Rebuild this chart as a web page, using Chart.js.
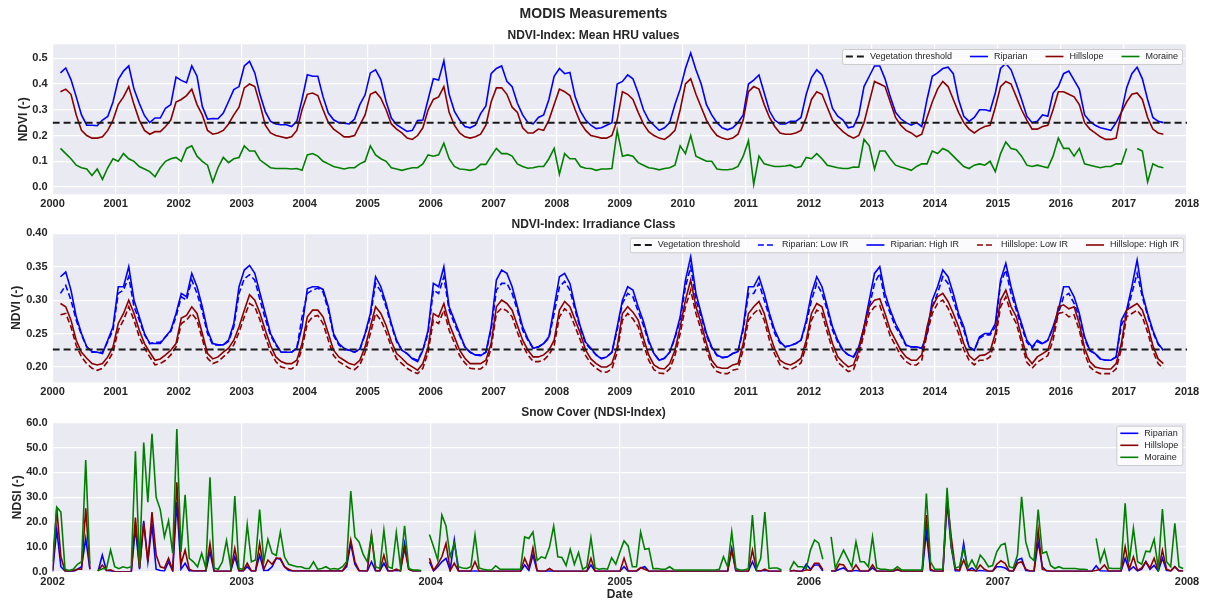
<!DOCTYPE html>
<html>
<head>
<meta charset="utf-8">
<script src="https://cdn.jsdelivr.net/npm/chart.js@4.4.0/dist/chart.umd.min.js"></script>
<style>
  body { margin: 0; background: #fff; }
  #wrap { position: relative; width: 1211px; height: 602px; }
  canvas { position: absolute; left: 0; }
</style>
</head>
<body>
<div id="wrap">
  <canvas id="ndvi" width="1211" height="212" style="top:0"></canvas>
  <canvas id="irr" width="1211" height="188" style="top:212px"></canvas>
  <canvas id="snow" width="1211" height="202" style="top:400px"></canvas>
</div>
<script>
// NDVI: monthly means, Feb 2000 .. Aug 2017 (one row per year)
const ndviRiparian = [
  0.443, 0.462, 0.417, 0.35, 0.28, 0.24, 0.24, 0.238, 0.26, 0.274, 0.33,
  0.417, 0.45, 0.47, 0.38, 0.325, 0.277, 0.25, 0.268, 0.268, 0.306, 0.32, 0.427,
  0.414, 0.405, 0.47, 0.43, 0.313, 0.264, 0.266, 0.265, 0.287, 0.332, 0.378, 0.39,
  0.47, 0.488, 0.443, 0.358, 0.293, 0.255, 0.245, 0.242, 0.242, 0.235, 0.255, 0.34,
  0.436, 0.43, 0.43, 0.35, 0.287, 0.261, 0.25, 0.248, 0.245, 0.264, 0.32, 0.358,
  0.443, 0.455, 0.417, 0.332, 0.268, 0.242, 0.229, 0.216, 0.22, 0.258, 0.26, 0.34,
  0.42, 0.415, 0.49, 0.36, 0.295, 0.26, 0.235, 0.23, 0.24, 0.285, 0.315, 0.44,
  0.46, 0.47, 0.41, 0.39, 0.325, 0.28, 0.25, 0.245, 0.27, 0.28, 0.34, 0.43,
  0.46, 0.44, 0.445, 0.35, 0.295, 0.26, 0.24, 0.227, 0.23, 0.24, 0.25, 0.40,
  0.41, 0.435, 0.42, 0.365, 0.30, 0.26, 0.24, 0.22, 0.23, 0.25, 0.32, 0.38,
  0.46, 0.52, 0.455, 0.40, 0.32, 0.28, 0.25, 0.23, 0.222, 0.23, 0.25, 0.28,
  0.40, 0.415, 0.435, 0.365, 0.295, 0.26, 0.245, 0.245, 0.255, 0.255, 0.27, 0.36,
  0.425, 0.455, 0.435, 0.38, 0.305, 0.275, 0.26, 0.23, 0.235, 0.28, 0.39, 0.43,
  0.47, 0.47, 0.42, 0.35, 0.29, 0.265, 0.25, 0.24, 0.25, 0.235, 0.34, 0.43,
  0.443, 0.46, 0.465, 0.44, 0.34, 0.275, 0.255, 0.27, 0.30, 0.30, 0.295, 0.365,
  0.46, 0.48, 0.455, 0.40, 0.34, 0.275, 0.25, 0.255, 0.28, 0.275, 0.365, 0.39,
  0.44, 0.45, 0.415, 0.38, 0.28, 0.255, 0.24, 0.23, 0.225, 0.22, 0.25, 0.29,
  0.385, 0.44, 0.465, 0.42, 0.34, 0.27, 0.255, 0.25
];
const ndviHillslope = [
  0.37, 0.38, 0.36, 0.28, 0.22, 0.20, 0.19, 0.19, 0.195, 0.22, 0.26,
  0.32, 0.35, 0.39, 0.32, 0.26, 0.22, 0.205, 0.215, 0.215, 0.235, 0.26, 0.33,
  0.34, 0.355, 0.38, 0.32, 0.28, 0.22, 0.205, 0.21, 0.22, 0.245, 0.28, 0.31,
  0.385, 0.40, 0.39, 0.32, 0.24, 0.21, 0.20, 0.195, 0.19, 0.195, 0.22, 0.30,
  0.36, 0.365, 0.355, 0.30, 0.25, 0.225, 0.21, 0.195, 0.195, 0.20, 0.24, 0.28,
  0.36, 0.37, 0.345, 0.30, 0.245, 0.225, 0.21, 0.19, 0.185, 0.20, 0.23, 0.30,
  0.34, 0.35, 0.39, 0.29, 0.24, 0.21, 0.195, 0.19, 0.195, 0.205, 0.24, 0.33,
  0.385, 0.385, 0.36, 0.31, 0.29, 0.23, 0.21, 0.21, 0.225, 0.22, 0.26, 0.32,
  0.38, 0.37, 0.355, 0.30, 0.25, 0.22, 0.20, 0.195, 0.19, 0.19, 0.20, 0.26,
  0.37, 0.36, 0.34, 0.29, 0.245, 0.215, 0.20, 0.19, 0.185, 0.20, 0.22, 0.30,
  0.40, 0.42, 0.36, 0.31, 0.26, 0.225, 0.20, 0.19, 0.185, 0.19, 0.205, 0.26,
  0.37, 0.39, 0.38, 0.32, 0.27, 0.235, 0.21, 0.205, 0.205, 0.21, 0.22, 0.27,
  0.34, 0.37, 0.36, 0.31, 0.26, 0.235, 0.215, 0.20, 0.19, 0.20, 0.25, 0.33,
  0.41, 0.40, 0.39, 0.33, 0.27, 0.24, 0.22, 0.21, 0.195, 0.205, 0.27, 0.33,
  0.38, 0.41, 0.39, 0.34, 0.29, 0.25, 0.225, 0.21, 0.225, 0.235, 0.24, 0.31,
  0.39, 0.41, 0.40, 0.35, 0.30, 0.26, 0.225, 0.225, 0.235, 0.24, 0.30, 0.37,
  0.37, 0.36, 0.35, 0.32, 0.25, 0.225, 0.21, 0.195, 0.185, 0.185, 0.19, 0.29,
  0.33, 0.36, 0.365, 0.34, 0.27, 0.225, 0.21, 0.205
];
const ndviMoraine = [
  0.15, 0.13, 0.11, 0.085, 0.075, 0.07, 0.045, 0.07, 0.03, 0.075, 0.11,
  0.10, 0.13, 0.11, 0.10, 0.08, 0.07, 0.06, 0.04, 0.075, 0.10, 0.11, 0.115,
  0.10, 0.15, 0.16, 0.12, 0.10, 0.085, 0.02, 0.075, 0.115, 0.095, 0.11, 0.115,
  0.16, 0.14, 0.14, 0.105, 0.09, 0.075, 0.072, 0.072, 0.072, 0.07, 0.072, 0.065,
  0.125, 0.13, 0.12, 0.10, 0.09, 0.08, 0.075, 0.07, 0.075, 0.075, 0.09, 0.10,
  0.16, 0.125, 0.11, 0.10, 0.075, 0.07, 0.065, 0.07, 0.075, 0.075, 0.09, 0.125,
  0.12, 0.125, 0.17, 0.11, 0.08, 0.07, 0.068, 0.065, 0.07, 0.088, 0.088, 0.12,
  0.15, 0.13, 0.13, 0.12, 0.09, 0.08, 0.073, 0.075, 0.08, 0.08, 0.11, 0.15,
  0.05, 0.13, 0.11, 0.11, 0.08, 0.073, 0.072, 0.065, 0.07, 0.07, 0.072, 0.22,
  0.12, 0.125, 0.12, 0.095, 0.085, 0.075, 0.072, 0.067, 0.072, 0.075, 0.085, 0.16,
  0.13, 0.20, 0.12, 0.11, 0.10, 0.10, 0.07, 0.067, 0.067, 0.07, 0.08, 0.12,
  0.18, 0.01, 0.12, 0.09, 0.085, 0.08, 0.08, 0.082, 0.085, 0.075, 0.08, 0.115,
  0.11, 0.13, 0.11, 0.085, 0.08, 0.075, 0.072, 0.072, 0.078, 0.077, 0.185, 0.16,
  0.07, 0.14, 0.14, 0.11, 0.085, 0.078, 0.072, 0.065, 0.08, 0.09, 0.09, 0.14,
  0.13, 0.15, 0.14, 0.12, 0.10, 0.08, 0.072, 0.085, 0.09, 0.085, 0.10, 0.06,
  0.13, 0.175, 0.15, 0.145, 0.12, 0.085, 0.08, 0.085, 0.08, 0.075, 0.12, 0.19,
  0.15, 0.15, 0.12, 0.15, 0.09, 0.085, 0.08, 0.075, 0.08, 0.08, 0.09, 0.09,
  0.15, null, 0.15, 0.14, 0.02, 0.09, 0.08, 0.075
];
const ndviThreshold = 0.25;

// NDVI by irradiance class, same months
const irrRipLow = [
  0.31, 0.322, 0.30, 0.27, 0.248, 0.23, 0.222, 0.222, 0.222, 0.238, 0.255,
  0.31, 0.315, 0.335, 0.29, 0.27, 0.248, 0.235, 0.237, 0.237, 0.245, 0.253, 0.275,
  0.305, 0.30, 0.33, 0.31, 0.283, 0.25, 0.233, 0.233, 0.233, 0.238, 0.26, 0.31,
  0.332, 0.338, 0.33, 0.30, 0.272, 0.247, 0.233, 0.222, 0.222, 0.222, 0.228, 0.275,
  0.31, 0.315, 0.318, 0.312, 0.285, 0.247, 0.233, 0.226, 0.225, 0.222, 0.226, 0.248,
  0.275, 0.325, 0.313, 0.29, 0.262, 0.238, 0.225, 0.22, 0.213, 0.21, 0.225, 0.25,
  0.315, 0.31, 0.335, 0.285, 0.265, 0.247, 0.23, 0.222, 0.218, 0.218, 0.222, 0.255,
  0.315, 0.325, 0.325, 0.31, 0.285, 0.255, 0.24, 0.228, 0.23, 0.235, 0.243, 0.28,
  0.32, 0.328, 0.315, 0.285, 0.257, 0.235, 0.226, 0.218, 0.213, 0.215, 0.222, 0.255,
  0.295, 0.31, 0.305, 0.283, 0.262, 0.237, 0.22, 0.21, 0.213, 0.222, 0.243, 0.27,
  0.32, 0.35, 0.30, 0.275, 0.247, 0.228, 0.217, 0.214, 0.215, 0.22, 0.223, 0.255,
  0.31, 0.31, 0.325, 0.30, 0.275, 0.25, 0.236, 0.23, 0.232, 0.235, 0.24, 0.265,
  0.30, 0.325, 0.31, 0.285, 0.255, 0.237, 0.224, 0.218, 0.215, 0.228, 0.255, 0.29,
  0.325, 0.34, 0.30, 0.28, 0.26, 0.247, 0.232, 0.23, 0.23, 0.228, 0.248, 0.29,
  0.31, 0.335, 0.325, 0.30, 0.275, 0.255, 0.23, 0.225, 0.243, 0.248, 0.248, 0.26,
  0.325, 0.345, 0.31, 0.285, 0.26, 0.237, 0.228, 0.238, 0.234, 0.24, 0.258, 0.28,
  0.305, 0.31, 0.295, 0.275, 0.242, 0.224, 0.22, 0.212, 0.21, 0.21, 0.215, 0.262,
  0.28, 0.31, 0.34, 0.305, 0.277, 0.252, 0.234, 0.225
];
const irrRipHigh = [
  0.335, 0.342, 0.315, 0.275, 0.25, 0.23, 0.223, 0.222, 0.22, 0.24, 0.26,
  0.32, 0.32, 0.35, 0.30, 0.275, 0.25, 0.235, 0.235, 0.235, 0.245, 0.255, 0.28,
  0.31, 0.305, 0.34, 0.32, 0.29, 0.255, 0.235, 0.233, 0.233, 0.24, 0.265, 0.32,
  0.345, 0.352, 0.34, 0.31, 0.28, 0.25, 0.235, 0.222, 0.222, 0.222, 0.228, 0.26,
  0.317, 0.32, 0.32, 0.316, 0.29, 0.25, 0.235, 0.228, 0.225, 0.222, 0.227, 0.25,
  0.28, 0.335, 0.32, 0.295, 0.265, 0.24, 0.225, 0.22, 0.212, 0.208, 0.225, 0.255,
  0.325, 0.32, 0.35, 0.29, 0.27, 0.25, 0.23, 0.222, 0.218, 0.217, 0.222, 0.26,
  0.33, 0.345, 0.34, 0.32, 0.29, 0.26, 0.242, 0.228, 0.23, 0.235, 0.245, 0.29,
  0.335, 0.34, 0.325, 0.29, 0.26, 0.237, 0.228, 0.218, 0.212, 0.215, 0.222, 0.26,
  0.30, 0.32, 0.315, 0.29, 0.268, 0.24, 0.22, 0.21, 0.213, 0.222, 0.245, 0.275,
  0.33, 0.365, 0.31, 0.28, 0.25, 0.23, 0.218, 0.214, 0.215, 0.22, 0.223, 0.26,
  0.32, 0.32, 0.335, 0.31, 0.28, 0.255, 0.238, 0.23, 0.232, 0.235, 0.24, 0.27,
  0.31, 0.335, 0.32, 0.29, 0.26, 0.24, 0.225, 0.218, 0.215, 0.23, 0.26, 0.30,
  0.34, 0.35, 0.31, 0.285, 0.265, 0.25, 0.233, 0.23, 0.23, 0.228, 0.25, 0.30,
  0.32, 0.345, 0.335, 0.31, 0.28, 0.26, 0.23, 0.225, 0.245, 0.25, 0.25, 0.265,
  0.33, 0.355, 0.32, 0.29, 0.265, 0.24, 0.23, 0.24, 0.235, 0.24, 0.26, 0.285,
  0.32, 0.32, 0.305, 0.28, 0.245, 0.225, 0.22, 0.212, 0.21, 0.21, 0.215, 0.27,
  0.285, 0.32, 0.36, 0.31, 0.28, 0.255, 0.235, 0.225
];
const irrHillLow = [
  0.278, 0.28, 0.26, 0.232, 0.215, 0.205, 0.198, 0.195, 0.198, 0.208, 0.222,
  0.255, 0.27, 0.29, 0.27, 0.245, 0.228, 0.215, 0.203, 0.205, 0.21, 0.218, 0.23,
  0.265, 0.27, 0.28, 0.27, 0.242, 0.213, 0.205, 0.208, 0.215, 0.222, 0.233, 0.252,
  0.275, 0.295, 0.29, 0.27, 0.245, 0.223, 0.208, 0.20, 0.198, 0.197, 0.203, 0.228,
  0.265, 0.275, 0.277, 0.265, 0.24, 0.217, 0.208, 0.203, 0.198, 0.196, 0.203, 0.222,
  0.25, 0.28, 0.27, 0.252, 0.23, 0.212, 0.205, 0.198, 0.193, 0.19, 0.198, 0.222,
  0.27, 0.265, 0.285, 0.255, 0.236, 0.217, 0.206, 0.198, 0.197, 0.197, 0.203, 0.228,
  0.28, 0.288, 0.284, 0.275, 0.252, 0.232, 0.218, 0.208, 0.208, 0.21, 0.218, 0.232,
  0.275, 0.287, 0.28, 0.26, 0.24, 0.217, 0.205, 0.198, 0.193, 0.192, 0.197, 0.222,
  0.27, 0.28, 0.272, 0.26, 0.234, 0.21, 0.196, 0.191, 0.19, 0.197, 0.217, 0.25,
  0.29, 0.315, 0.28, 0.255, 0.226, 0.203, 0.193, 0.19, 0.19, 0.195, 0.197, 0.226,
  0.27, 0.28, 0.287, 0.27, 0.24, 0.219, 0.203, 0.198, 0.196, 0.20, 0.206, 0.232,
  0.27, 0.285, 0.28, 0.252, 0.226, 0.207, 0.20, 0.193, 0.196, 0.217, 0.25, 0.28,
  0.29, 0.292, 0.27, 0.246, 0.232, 0.217, 0.208, 0.203, 0.203, 0.21, 0.25, 0.28,
  0.295, 0.30, 0.288, 0.27, 0.25, 0.226, 0.21, 0.203, 0.21, 0.21, 0.215, 0.24,
  0.29, 0.305, 0.28, 0.265, 0.236, 0.207, 0.198, 0.207, 0.212, 0.217, 0.24, 0.28,
  0.282, 0.275, 0.278, 0.255, 0.22, 0.20, 0.193, 0.19, 0.19, 0.19, 0.197, 0.227,
  0.275, 0.28, 0.285, 0.275, 0.252, 0.224, 0.205, 0.198
];
const irrHillHigh = [
  0.295, 0.29, 0.27, 0.24, 0.222, 0.213, 0.205, 0.203, 0.205, 0.215, 0.23,
  0.265, 0.28, 0.30, 0.28, 0.255, 0.235, 0.222, 0.21, 0.212, 0.218, 0.225, 0.235,
  0.273, 0.277, 0.29, 0.28, 0.25, 0.22, 0.212, 0.215, 0.222, 0.228, 0.24, 0.26,
  0.285, 0.308, 0.30, 0.28, 0.255, 0.232, 0.215, 0.208, 0.205, 0.205, 0.21, 0.235,
  0.275, 0.285, 0.285, 0.275, 0.25, 0.225, 0.215, 0.21, 0.205, 0.203, 0.21, 0.23,
  0.26, 0.29, 0.28, 0.262, 0.238, 0.22, 0.213, 0.205, 0.20, 0.195, 0.205, 0.23,
  0.28, 0.275, 0.295, 0.265, 0.245, 0.225, 0.213, 0.205, 0.205, 0.205, 0.21, 0.235,
  0.29, 0.30, 0.295, 0.285, 0.262, 0.24, 0.225, 0.215, 0.215, 0.218, 0.225, 0.24,
  0.285, 0.298, 0.29, 0.27, 0.25, 0.225, 0.212, 0.205, 0.20, 0.20, 0.205, 0.23,
  0.28, 0.29, 0.282, 0.27, 0.243, 0.218, 0.203, 0.198, 0.197, 0.205, 0.225, 0.26,
  0.30, 0.33, 0.29, 0.265, 0.235, 0.21, 0.20, 0.198, 0.198, 0.203, 0.205, 0.235,
  0.28, 0.29, 0.298, 0.28, 0.25, 0.227, 0.21, 0.205, 0.203, 0.207, 0.213, 0.24,
  0.28, 0.295, 0.29, 0.262, 0.235, 0.215, 0.207, 0.20, 0.203, 0.225, 0.26, 0.29,
  0.30, 0.302, 0.28, 0.255, 0.24, 0.225, 0.215, 0.21, 0.21, 0.218, 0.26, 0.29,
  0.305, 0.31, 0.298, 0.28, 0.26, 0.235, 0.217, 0.21, 0.217, 0.218, 0.223, 0.25,
  0.30, 0.315, 0.29, 0.275, 0.245, 0.215, 0.205, 0.215, 0.22, 0.225, 0.25, 0.29,
  0.293, 0.287, 0.29, 0.265, 0.228, 0.208, 0.20, 0.198, 0.197, 0.197, 0.205, 0.235,
  0.285, 0.29, 0.295, 0.285, 0.262, 0.232, 0.212, 0.205
];
const irrThreshold = 0.226;

// NDSI snow cover, 8-day composites from 1 Jan 2002 (null = no data)
const snowRiparian = [
  0, 17, 2, 0.3, 0, 0, 1, 2, 13.4, 1,
  null, 0.3, 6.7, 0.5, 0.3, 0, 0, 0, 0, 0,
  17.5, 1, 20.5, 4, 18.8, 1, 0.5, 0.3, 4, 0.3,
  28, 1, 3.4, 0.3, 0.3, 0.3, 0.3, 0.2, 8, 0.2,
  0.2, 0.2, 0.2, 0.2, 6, 0.3, 0.3, 2, 0.3, 0.3,
  6.7, 0.5, 0.5, 2, 5.4, 5, 2, 0.5, 0.3, 0.3,
  0.3, 0.3, 0.3, 0.3, 0.3, 0.3, 0.3, 0.3, 0.3, 0.3,
  0.3, 2, 11.4, 3, 0.3, 0.3, 0.3, 4, 0.3, 0.3,
  3.4, 0.3, 0.3, 0.5, 0.3, 11.4, 1, 0.3, 0.3, 0.3,
  null, 4, 0.3, 2, 4, 5.4, 0.5, 12.8, 0.3, 0.2,
  0.2, 0.2, 0.3, 0.2, 0.2, 0.2, 0.2, 0.2, 0.2, 0.2,
  0.2, 0.2, 0.2, 0.2, 2.7, 0.5, 6.7, 0.3, 0.2, 0.2,
  0.3, 0.2, 0.2, 0.2, 0.2, 0.2, 0.2, 0.2, 0.2, 0.2,
  2.7, 0.2, 0.2, 0.2, 0.2, 0.2, 0.2, 0.2, 2, 0.2,
  0.2, 0.2, 1.5, 2, 0.2, 0.2, 0.2, 0.2, 0.2, 0.2,
  0.2, 0.2, 0.2, 0.2, 0.2, 0.2, 0.2, 0.2, 0.2, 0.2,
  0.2, 0.2, 0.2, 0.2, 9.4, 0.3, 0.2, 0.2, 0.2, 4,
  0.3, 0.3, 0.5, 0.2, 0.2, 0.2, 0.2, null, 0.2, 0.5,
  0.2, 0.2, 3, 1, 2.7, 2.7, 0.3, null, 0.3, 0.2,
  1, 1.5, 0.2, 0.2, 0.5, 0.2, 0.2, 0.2, 1.5, 0.2,
  0.2, 0.2, 0.2, 0.2, 0.8, 0.2, 0.2, 0.2, 0.2, 0.2,
  0.2, 16, 0.5, 0.2, 0.2, 0.2, 28, 10, 0.3, 0.3,
  11.4, 0.5, 1.5, 0.2, 0.5, 0.3, 0.2, 0.2, 2, 2,
  1.5, 0.3, 0.2, 4.7, 5.4, 0.5, 0.2, 0.2, 12, 2,
  0.3, 0.2, 0.2, 0.2, 0.2, 0.2, 0.2, 0.2, 0.2, 0.2,
  0.2, 0.2, 2.4, 0.3, 0.3, 0.2, 0.2, 0.2, 0.2, 5.4,
  0.5, 2, 0.3, 1, 4, 1, 2.5, 0.3, 5.4, 0.5,
  0.3, 2, 0.3, 0.3
];
const snowHillslope = [
  0.5, 25.5, 6, 0.3, 0, 0.5, 1, 1, 25.5, 1,
  null, 0.3, 2.7, 0.5, 0.8, 0, 0, 0, 0, 0,
  21.8, 1.5, 19.5, 4, 24, 6.7, 2, 1.5, 5.4, 0.5,
  36, 3, 8.7, 1, 0.3, 0.3, 0.3, 0.5, 11.4, 0.2,
  0.2, 0.2, 0.2, 0.2, 9.4, 0.5, 0.3, 3.4, 0.3, 0.3,
  11.4, 1, 4.7, 3, 5.4, 5.4, 2, 1, 0.3, 0.3,
  0.3, 0.3, 0.3, 0.3, 0.3, 0.3, 0.3, 0.3, 0.3, 0.3,
  0.3, 3, 12.8, 4, 0.5, 0.3, 0.3, 14.8, 0.5, 0.3,
  6.7, 0.3, 0.3, 1, 0.3, 9.4, 1, 0.3, 0.3, 0.3,
  null, 5.4, 0.5, 3, 6, 11.4, 0.5, 3.4, 0.3, 0.3,
  0.3, 0.3, 4, 0.2, 0.2, 0.2, 0.2, 0.2, 0.2, 0.2,
  0.2, 0.2, 0.2, 0.2, 5.4, 1.5, 9.7, 0.5, 0.2, 0.2,
  1.3, 0.2, 0.2, 0.2, 0.2, 0.2, 0.2, 0.2, 0.2, 0.2,
  5.4, 0.2, 0.2, 0.2, 0.2, 0.2, 0.2, 0.2, 5.4, 0.3,
  0.3, 0.3, 1.6, 1, 0.2, 0.2, 0.2, 0.2, 0.2, 0.2,
  0.2, 0.2, 0.2, 0.2, 0.2, 0.2, 0.2, 0.2, 0.2, 0.2,
  0.2, 0.2, 0.2, 0.2, 8.7, 0.5, 0.2, 0.2, 0.2, 8.7,
  0.5, 0.3, 1, 0.2, 0.2, 0.2, 0.2, null, 0.2, 0.5,
  0.2, 0.2, 0.8, 0.5, 3.4, 3.4, 0.8, null, 0.3, 0.3,
  3, 2.7, 0.3, 0.3, 2.7, 0.3, 0.3, 0.3, 2.7, 0.2,
  0.2, 0.2, 0.2, 0.2, 1, 0.2, 0.2, 0.2, 0.2, 0.2,
  0.2, 22.8, 1, 0.2, 0.2, 0.2, 30.2, 14, 1, 0.5,
  4.7, 0.5, 0.5, 0.3, 2.7, 1, 0.2, 0.2, 3, 4.4,
  3.4, 0.3, 0.3, 3.4, 4, 1, 0.3, 0.3, 16.8, 1,
  0.5, 0.2, 0.2, 0.2, 0.2, 0.2, 0.2, 0.2, 0.2, 0.2,
  0.2, 0.2, 0.5, 1, 2.7, 0.3, 0.3, 0.3, 0.3, 10,
  1, 6, 0.5, 1.5, 4, 1.5, 5.4, 0.3, 8.7, 1,
  0.3, 2, 0.3, 0.3
];
const snowMoraine = [
  4, 26, 24, 1, 0.5, 1, 3, 4, 45, 3,
  null, 0.5, 1.2, 1.2, 8.7, 2, 1.2, 2, 1.5, 2,
  48.5, 2, 52, 28, 55.5, 30, 25, 14, 20.5, 7.5,
  57.5, 8, 31, 5.4, 4, 2, 7.4, 1.5, 38, 1.5,
  1, 4, 12.5, 2, 30.5, 1.3, 1, 19, 4, 4.7,
  25, 4, 13, 7.4, 6.5, 16, 6, 3, 2.5, 2,
  2, 1.3, 1.3, 4, 1, 1.3, 2, 1, 1.3, 1,
  2, 4, 32.5, 14, 12, 7, 4, 14.8, 2, 1.3,
  16.8, 2, 1.3, 15.8, 2, 18.5, 1.3, 0.7, 0.7, 0.5,
  null, 15, 10, 4.7, 22.8, 18.4, 6, 11.4, 2, 1.5,
  1.3, 2, 14.8, 1.5, 1, 0.7, 0.7, 2.4, 1, 1,
  1, 1, 1, 1, 14, 13.4, 16, 4.5, 6, 5.4,
  10, 18.4, 6, 5.7, 2.5, 9, 3, 7.7, 1, 2,
  13.7, 1.5, 1, 1.3, 1, 5.6, 3, 8, 12.4, 10.4,
  2, 2, 16, 9, 9.4, 1.2, 1.3, 1, 1, 2,
  0.8, 0.7, 0.7, 0.7, 0.7, 0.7, 0.7, 0.7, 0.7, 0.7,
  0.7, 1, 6, 2, 16, 1.3, 0.7, 0.7, 1.2, 22.8,
  1.3, 5.4, 24, 1.3, 1.5, 1.5, 0.7, null, 0.7, 4,
  2, 2, 1.3, 8.7, 12.8, 11.5, 5, null, 14, 1.5,
  5.1, 8.7, 5.4, 2, 12, 4, 4, 2, 14, 1.5,
  1, 1, 0.7, 0.7, 2, 0.7, 0.7, 0.7, 0.7, 0.7,
  0.7, 31.5, 4, 1, 1, 1, 33.8, 10, 1.5, 2,
  9.4, 1.5, 4.7, 1.5, 6.7, 4.7, 2, 2.5, 8, 10.7,
  11.4, 2, 1.5, 6.7, 30.2, 12, 6, 4.5, 25, 7.4,
  8, 2.5, 1.3, 2, 1.3, 1.3, 1.3, 1.3, 1, 1,
  0.8, null, 13.4, 4, 8.7, 1.5, 1.3, 1.3, 1.3, 27.5,
  4, 17.5, 4, 3, 8.3, 8, 13.1, 1.3, 25.2, 4,
  2, 19.5, 2, 1.3
];

// time axes in decimal years
const ndviDates = [];
for (let y = 2000; y <= 2017; y++) {
  for (let m = 1; m <= 12; m++) {
    if ((y === 2000 && m < 2) || (y === 2017 && m > 8)) continue;
    ndviDates.push(y + (m - 0.5) / 12);
  }
}
const snowDates = snowMoraine.map((_, k) => 2002 + 8 * k / 365.25);

const pts = (xs, ys) => ys.map((v, i) => ({x: xs[i], y: v}));

Chart.defaults.font.family = '"Liberation Sans", Arial, Helvetica, sans-serif';
Chart.defaults.color = '#262626';

const TXT = '#262626';
const BLUE = '#0000ff', RED = '#8b0000', GREEN = '#008000', BLACK = '#1a1a1a';

// seaborn-like grey plot background
const plotBg = {
  id: 'plotBg',
  beforeDraw(chart) {
    const {ctx, chartArea: a} = chart;
    ctx.save();
    ctx.fillStyle = '#eaeaf2';
    ctx.fillRect(a.left, a.top, a.width, a.height);
    ctx.restore();
  }
};

// framed legend drawn inside the axes, anchored top-right
const boxLegend = {
  id: 'boxLegend',
  afterDraw(chart, args, o) {
    if (!o || !o.right) return;
    const ctx = chart.ctx;
    const items = chart.data.datasets;
    ctx.save();
    ctx.font = '9px "Liberation Sans", Arial, sans-serif';
    const widths = items.map(d => ctx.measureText(d.label).width);
    const line = 18, gap = 6, sep = 18, pad = 4;
    let w;
    if (o.column) w = pad * 2 + line + gap + Math.max(...widths);
    else w = pad * 2 + items.length * (line + gap) + widths.reduce((a, b) => a + b, 0) + sep * (items.length - 1);
    const x0 = o.right - w, y0 = o.top, h = o.height;
    ctx.fillStyle = 'rgba(255,255,255,0.8)';
    ctx.strokeStyle = '#cccccc';
    ctx.lineWidth = 1;
    ctx.beginPath();
    if (ctx.roundRect) ctx.roundRect(x0 + 0.5, y0 + 0.5, w, h, 2); else ctx.rect(x0 + 0.5, y0 + 0.5, w, h);
    ctx.fill();
    ctx.stroke();
    ctx.textBaseline = 'middle';
    ctx.textAlign = 'left';
    let x = x0 + pad;
    items.forEach((d, i) => {
      const cy = o.column ? y0 + o.first + i * o.step : y0 + h / 2;
      if (o.column) x = x0 + pad;
      ctx.strokeStyle = d.borderColor;
      ctx.lineWidth = d.borderWidth || 1.6;
      ctx.setLineDash(d.borderDash || []);
      ctx.beginPath();
      ctx.moveTo(x, cy);
      ctx.lineTo(x + line, cy);
      ctx.stroke();
      ctx.setLineDash([]);
      ctx.fillStyle = TXT;
      ctx.fillText(d.label, x + line + gap, cy);
      x += line + gap + widths[i] + sep;
    });
    ctx.restore();
  }
};

function xAxis(min, max, height, pad, title) {
  return {
    type: 'linear', min, max,
    border: {display: false},
    grid: {color: '#ffffff', lineWidth: 1.2, drawTicks: false},
    ticks: {stepSize: 1, maxTicksLimit: 100, autoSkip: false, includeBounds: false, padding: pad,
            maxRotation: 0, font: {size: 11, weight: 'bold'}, color: TXT, callback: v => String(v)},
    title: title ? {display: true, text: title, color: TXT, font: {size: 12, weight: 'bold'}, padding: {top: 0, bottom: 0}}
                 : {display: false},
    afterFit(s) { s.height = height; }
  };
}

function yAxis(min, max, step, digits, title, titlePad) {
  return {
    type: 'linear', min, max,
    border: {display: false},
    grid: {color: '#ffffff', lineWidth: 1.2, drawTicks: false},
    ticks: {stepSize: step, maxTicksLimit: 100, includeBounds: false, padding: 5,
            font: {size: 11, weight: 'bold'}, color: TXT, callback: v => v.toFixed(digits)},
    title: {display: true, text: title, color: TXT, font: {size: 12, weight: 'bold'}, padding: {top: titlePad, bottom: 0}},
    afterFit(s) { s.width = 52.6; }
  };
}

function baseOptions(scales, plugins) {
  return {
    responsive: false,
    animation: false,
    devicePixelRatio: 1,
    events: [],
    layout: {padding: {left: 0, right: 24, top: 0, bottom: 0}},
    elements: {point: {radius: 0}, line: {borderWidth: 1.6, tension: 0}},
    scales,
    plugins: Object.assign({legend: {display: false}, tooltip: {enabled: false}}, plugins)
  };
}

const titleFont = {size: 12, weight: 'bold'};

new Chart(document.getElementById('ndvi'), {
  type: 'line',
  data: {datasets: [
    {label: 'Vegetation threshold', data: [{x: 2000, y: ndviThreshold}, {x: 2018, y: ndviThreshold}],
     borderColor: BLACK, borderWidth: 2, borderDash: [7, 4], order: 0},
    {label: 'Riparian', data: pts(ndviDates, ndviRiparian), borderColor: BLUE, order: 3},
    {label: 'Hillslope', data: pts(ndviDates, ndviHillslope), borderColor: RED, order: 2},
    {label: 'Moraine', data: pts(ndviDates, ndviMoraine), borderColor: GREEN, order: 1}
  ]},
  options: baseOptions(
    {x: xAxis(2000, 2018, 17.7, 3), y: yAxis(-0.028, 0.554, 0.1, 1, 'NDVI (-)', 16)},
    {
      title: {display: true, text: 'MODIS Measurements', color: TXT, font: {size: 14, weight: 'bold'}, padding: {top: 6, bottom: 4}},
      subtitle: {display: true, text: 'NDVI-Index: Mean HRU values', color: TXT, font: titleFont, padding: {top: 2, bottom: 1.1}},
      boxLegend: {right: 1182, top: 49, height: 15}
    }),
  plugins: [plotBg, boxLegend]
});

new Chart(document.getElementById('irr'), {
  type: 'line',
  data: {datasets: [
    {label: 'Vegetation threshold', data: [{x: 2000, y: irrThreshold}, {x: 2018, y: irrThreshold}],
     borderColor: BLACK, borderWidth: 2, borderDash: [7, 4], order: 0},
    {label: 'Riparian: Low IR', data: pts(ndviDates, irrRipLow), borderColor: BLUE, borderDash: [6, 3], order: 3},
    {label: 'Riparian: High IR', data: pts(ndviDates, irrRipHigh), borderColor: BLUE, order: 4},
    {label: 'Hillslope: Low IR', data: pts(ndviDates, irrHillLow), borderColor: RED, borderDash: [6, 3], order: 1},
    {label: 'Hillslope: High IR', data: pts(ndviDates, irrHillHigh), borderColor: RED, order: 2}
  ]},
  options: baseOptions(
    {x: xAxis(2000, 2018, 17.7, 3), y: yAxis(0.177, 0.40, 0.05, 2, 'NDVI (-)', 9)},
    {
      title: {display: true, text: 'NDVI-Index: Irradiance Class', color: TXT, font: titleFont, padding: {top: 5.8, bottom: 1.1}},
      boxLegend: {right: 1183, top: 25.7, height: 14.6}
    }),
  plugins: [plotBg, boxLegend]
});

new Chart(document.getElementById('snow'), {
  type: 'line',
  data: {datasets: [
    {label: 'Riparian', data: pts(snowDates, snowRiparian), borderColor: BLUE, order: 3},
    {label: 'Hillslope', data: pts(snowDates, snowHillslope), borderColor: RED, order: 2},
    {label: 'Moraine', data: pts(snowDates, snowMoraine), borderColor: GREEN, order: 1}
  ]},
  options: baseOptions(
    {x: xAxis(2002, 2008, 30.3, 4, 'Date'), y: yAxis(0, 60, 10, 1, 'NDSI (-)', 10)},
    {
      title: {display: true, text: 'Snow Cover (NDSI-Index)', color: TXT, font: titleFont, padding: {top: 5.5, bottom: 2.8}},
      boxLegend: {right: 1182.3, top: 25.7, height: 39.3, column: true, first: 7.6, step: 12}
    }),
  plugins: [plotBg, boxLegend]
});
</script>
</body>
</html>
